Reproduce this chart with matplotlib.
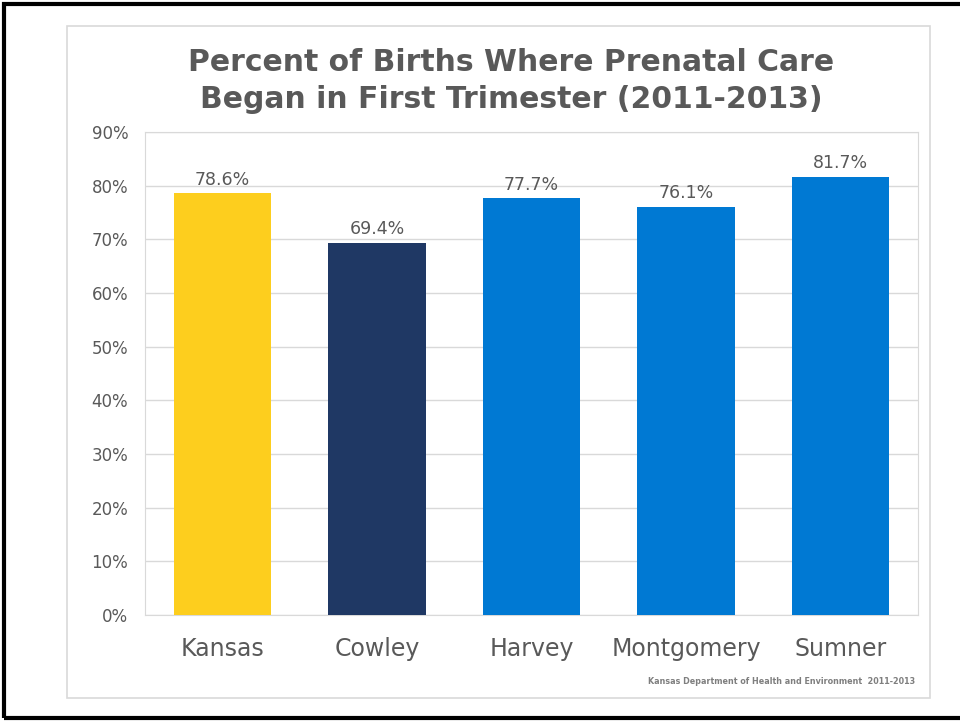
import matplotlib.pyplot as plt
from matplotlib.patches import Rectangle

categories = ['Kansas', 'Cowley', 'Harvey', 'Montgomery', 'Sumner']
values = [78.6, 69.4, 77.7, 76.1, 81.7]
colors = ['#FDCE1E', '#1F3864', '#0079D3', '#0079D3', '#0079D3']
yticks = list(range(0, 100, 10))

W, H = 960, 721
fig = plt.figure(figsize=(W / 100, H / 100), dpi=100)
fig.patch.set_facecolor('white')

# slide border (black) and chart frame (light gray)
fig.add_artist(Rectangle((4 / W, 1 - 718 / H), 1.0, 714 / H, transform=fig.transFigure,
                         fill=False, edgecolor='black', linewidth=3))
fig.add_artist(Rectangle((67 / W, 1 - 698 / H), (930 - 67) / W, (698 - 26) / H,
                         transform=fig.transFigure, fill=False, edgecolor='#D9D9D9', linewidth=1.2))

ax = fig.add_axes([145 / W, 1 - 615 / H, (918 - 145) / W, (615 - 132) / H])
x = range(len(categories))
bars = ax.bar(x, values, width=0.63, color=colors, zorder=3)
for i, v in enumerate(values):
    ax.text(i, v + 0.8, f'{v:.1f}%', ha='center', va='bottom', fontsize=12.5, color='#595959')

ax.set_ylim(0, 90)
ax.set_xlim(-0.5, len(categories) - 0.5)
ax.set_yticks(yticks)
ax.set_yticklabels([f'{t}%' for t in yticks], fontsize=12, color='#595959')
ax.set_xticks(list(x))
ax.set_xticklabels(categories, fontsize=17, color='#595959')
ax.tick_params(axis='both', length=0)
ax.tick_params(axis='y', pad=12)
ax.tick_params(axis='x', pad=16)
ax.grid(axis='y', color='#D9D9D9', linewidth=1, zorder=0)
for s in ax.spines.values():
    s.set_color('#D9D9D9')

fig.text(511 / W, 1 - 81 / H, 'Percent of Births Where Prenatal Care\nBegan in First Trimester (2011-2013)',
         ha='center', va='center', fontsize=21.5, fontweight='bold', color='#595959', linespacing=1.35)
fig.text(915 / W, 1 - 681 / H, 'Kansas Department of Health and Environment  2011-2013',
         ha='right', va='center', fontsize=5.8, fontweight='bold', color='#7F7F7F')

fig.savefig('out.png', dpi=100)
